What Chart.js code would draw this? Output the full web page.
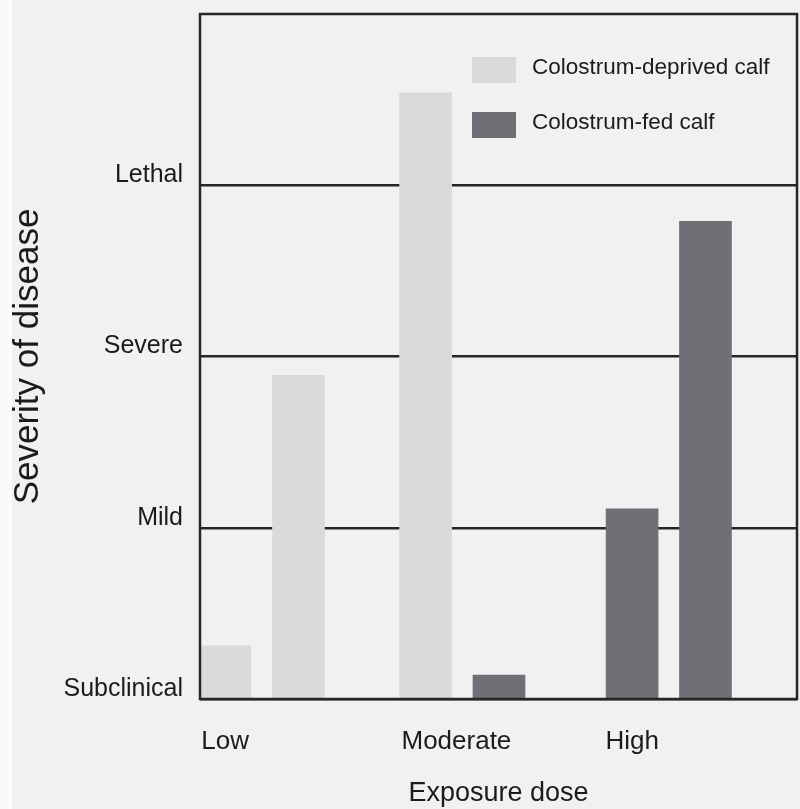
<!DOCTYPE html>
<html><head><meta charset="utf-8">
<script src="https://cdn.jsdelivr.net/npm/chart.js@4"></script>
<style>
html,body{margin:0;padding:0;background:#f1f1f1;}
#wrap{position:relative;width:800px;height:809px;overflow:hidden;}
#stripe{position:absolute;left:0;top:0;width:12px;height:809px;background:#fafafa;}
canvas{position:absolute;left:0;top:0;}
</style></head><body>
<div id="wrap"><div id="stripe"></div><canvas id="c" width="800" height="809"></canvas></div>
<script>
// ---- data ----
const severityLabels = ['Subclinical', 'Mild', 'Severe', 'Lethal'];
const severityLevels = [0, 1, 2, 3];
const doseLabels = ['Low', 'Moderate', 'High'];
const doseTickPositions = [0.05, 8.1, 16.3];
const deprivedX = [1.0, 3.96, 9.07];
const deprivedSeverity = [0.31, 1.89, 3.54];
const fedX = [12.02, 17.37, 20.32];
const fedSeverity = [0.14, 1.11, 2.79];
const seriesNames = ['Colostrum-deprived calf', 'Colostrum-fed calf'];
const seriesColors = ['#d9dadc', '#6f7075'];

const FONT = "'Liberation Sans', Arial, sans-serif";
const TEXT = '#1b1b1b';
const LINE = '#262626';

const toPoints = (xs, ys) => xs.map((x, i) => ({ x: x, y: ys[i] }));

const framePlugin = {
  id: 'frame',
  afterDraw(chart) {
    const { ctx, chartArea: a } = chart;
    ctx.save();
    ctx.strokeStyle = LINE;
    ctx.lineWidth = 2.5;
    ctx.strokeRect(a.left, a.top, a.right - a.left, a.bottom - a.top);
    ctx.restore();
  }
};

const legendPlugin = {
  id: 'innerLegend',
  afterDraw(chart) {
    const { ctx } = chart;
    ctx.save();
    ctx.font = '22.5px ' + FONT;
    ctx.textBaseline = 'middle';
    ctx.textAlign = 'left';
    chart.data.datasets.forEach((ds, i) => {
      const y = 57 + i * 55;
      ctx.fillStyle = ds.backgroundColor;
      ctx.fillRect(472, y, 44, 26);
      ctx.fillStyle = TEXT;
      ctx.fillText(ds.label, 532, y + 11);
    });
    ctx.restore();
  }
};

new Chart(document.getElementById('c'), {
  type: 'bar',
  data: {
    datasets: [
      { label: seriesNames[0], data: toPoints(deprivedX, deprivedSeverity), backgroundColor: seriesColors[0] },
      { label: seriesNames[1], data: toPoints(fedX, fedSeverity), backgroundColor: seriesColors[1] }
    ]
  },
  options: {
    responsive: false,
    animation: false,
    events: [],
    grouped: false,
    barThickness: 52,
    layout: { padding: { top: 14, right: 3, bottom: 0, left: 0 } },
    plugins: { legend: { display: false }, tooltip: { enabled: false } },
    scales: {
      x: {
        type: 'linear',
        min: 0, max: 24,
        offset: false,
        grid: { display: false, drawTicks: false },
        border: { display: false },
        afterBuildTicks(scale) { scale.ticks = doseTickPositions.map(v => ({ value: v })); },
        ticks: {
          align: 'start',
          padding: 27,
          color: TEXT,
          font: { family: FONT, size: 26 },
          maxRotation: 0,
          autoSkip: false,
          callback(value, index) { return doseLabels[index]; }
        },
        title: {
          display: true,
          text: 'Exposure dose',
          color: TEXT,
          font: { family: FONT, size: 27, lineHeight: 1 },
          padding: { top: 0, bottom: 2 }
        },
        afterFit(scale) { scale.height = 110; scale.paddingLeft = 0; scale.paddingRight = 0; }
      },
      y: {
        min: 0, max: 4,
        z: 1,
        grid: { color: LINE, lineWidth: 2.5, drawTicks: false },
        border: { display: false },
        afterBuildTicks(scale) { scale.ticks = severityLevels.map(v => ({ value: v })); },
        ticks: {
          padding: 17,
          labelOffset: -10,
          color: TEXT,
          font: { family: FONT, size: 25 },
          callback(value) { const i = severityLevels.indexOf(value); return i >= 0 ? severityLabels[i] : ''; }
        },
        title: {
          display: true,
          text: 'Severity of disease',
          color: TEXT,
          font: { family: FONT, size: 35, lineHeight: 1.2 },
          padding: { top: 7, bottom: 0 }
        },
        afterFit(scale) { scale.width = 200; scale.paddingTop = 0; scale.paddingBottom = 0; }
      }
    }
  },
  plugins: [framePlugin, legendPlugin]
});
</script>
</body></html>
